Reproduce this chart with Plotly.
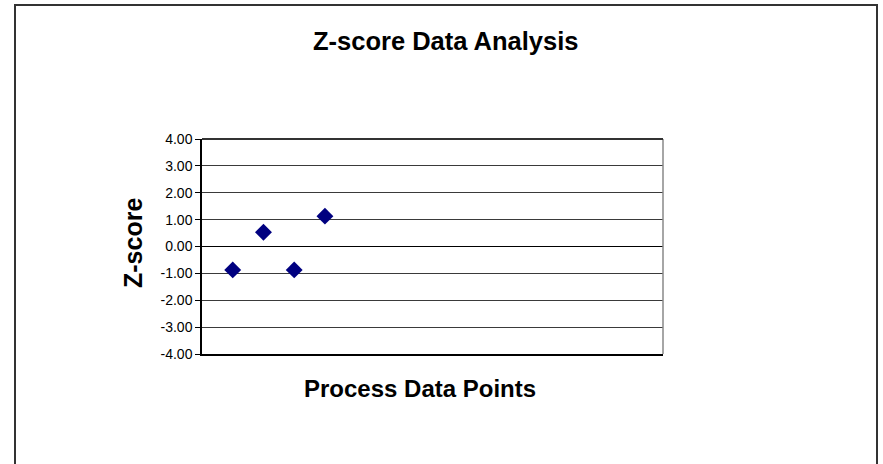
import plotly.graph_objects as go

# Data
point_index = [1, 2, 3, 4]
z_scores = [-0.87, 0.53, -0.87, 1.13]
y_ticks = [-4, -3, -2, -1, 0, 1, 2, 3, 4]
y_tick_labels = ["-4.00", "-3.00", "-2.00", "-1.00", "0.00",
                 "1.00", "2.00", "3.00", "4.00"]

title_text = "Z-score Data Analysis"
x_title = "Process Data Points"
y_title = "Z-score"

W, H = 883, 464
L, R, T, B = 202, 663, 139, 354  # plot-area pixel box

FONT = "Arial, 'Liberation Sans', Helvetica, sans-serif"

fig = go.Figure()
fig.add_trace(go.Scatter(
    x=point_index, y=z_scores, mode="markers",
    marker=dict(symbol="diamond", size=13, color="#000080",
                line=dict(width=0)),
    showlegend=False, hoverinfo="x+y",
))

def px_x(p):
    return (p - L) / (R - L)

def px_y(p):
    return (B - p) / (B - T)

shapes = [
    # outer chart frame
    dict(type="rect", xref="paper", yref="paper",
         x0=px_x(15), x1=px_x(877), y0=px_y(470), y1=px_y(5),
         line=dict(color="#333333", width=2), layer="below"),
    # plot-area frame (right side gray, top dark)
    dict(type="line", xref="paper", yref="paper",
         x0=1, x1=1, y0=0, y1=1, line=dict(color="#888888", width=1.5)),
    dict(type="line", xref="paper", yref="paper",
         x0=0, x1=1, y0=1, y1=1, line=dict(color="#333333", width=2)),
]

annotations = [
    dict(text="<b>%s</b>" % title_text, xref="paper", yref="paper",
         x=px_x(446), y=px_y(41), showarrow=False,
         xanchor="center", yanchor="middle",
         font=dict(family=FONT, size=25.5, color="black")),
    dict(text="<b>%s</b>" % x_title, xref="paper", yref="paper",
         x=px_x(420), y=px_y(388), showarrow=False,
         xanchor="center", yanchor="middle",
         font=dict(family=FONT, size=24, color="black")),
    dict(text="<b>%s</b>" % y_title, xref="paper", yref="paper",
         x=px_x(133), y=px_y(243), showarrow=False, textangle=-90,
         xanchor="center", yanchor="middle",
         font=dict(family=FONT, size=25, color="black")),
]

fig.update_layout(
    width=W, height=H,
    margin=dict(l=L, r=W - R, t=T, b=H - B, pad=0),
    paper_bgcolor="white", plot_bgcolor="white",
    font=dict(family=FONT, size=14, color="black"),
    shapes=shapes, annotations=annotations,
    xaxis=dict(range=[0, 15], showgrid=False, zeroline=False,
               showticklabels=False, ticks="", showline=True,
               linecolor="black", linewidth=1.5, fixedrange=True),
    yaxis=dict(range=[-4, 4], tickvals=y_ticks, ticktext=y_tick_labels,
               showgrid=True, gridcolor="#3a3a3a", gridwidth=1,
               zeroline=True, zerolinecolor="black", zerolinewidth=1,
               ticks="outside", ticklen=5, tickcolor="black", tickwidth=1,
               showline=True, linecolor="black", linewidth=1.5,
               tickfont=dict(family=FONT, size=14, color="black"),
               fixedrange=True),
)

fig.write_html("out.html",
               config={"displayModeBar": False},
               post_script="document.body.style.margin='0';document.body.style.overflow='hidden';")
